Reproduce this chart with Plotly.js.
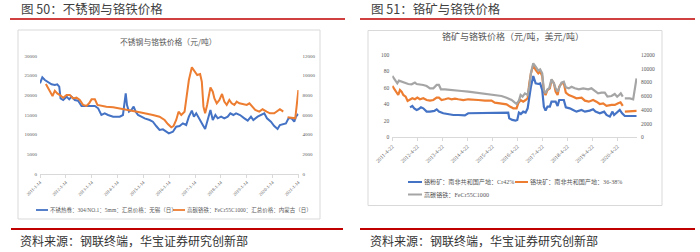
<!DOCTYPE html>
<html><head><meta charset="utf-8">
<script src="https://cdn.plot.ly/plotly-3.0.1.min.js"></script>
<style>html,body{margin:0;padding:0;background:#fff;overflow:hidden;} #chart{width:700px;height:252px;}</style>
</head><body><div id="chart"></div>
<script>
// ---------- Figure 50 data ----------
const fig50Title = '图 50：不锈钢与铬铁价格';
const fig50ChartTitle = '不锈钢与铬铁价格（元/吨）';
const stainlessName = '不锈热卷：304/NO.1：5mm：汇总价格：无锡（日）';
const ferroName50 = '高碳铬铁：FeCr55C1000：汇总价格：内蒙古（日）';
const leftTickVals = ['2011-01-14','2012-01-14','2013-01-14','2014-01-14','2015-01-14','2016-01-14','2017-01-14','2018-01-14','2019-01-14','2020-01-14','2021-01-14'];
const leftTickText = ['2011-1-14','2012-1-14','2013-1-14','2014-1-14','2015-1-14','2016-1-14','2017-1-14','2018-1-14','2019-1-14','2020-1-14','2021-1-14'];
const stainlessDates = ['2011-01-14','2011-02-16','2011-03-24','2011-05-10','2011-06-26','2011-08-12','2011-09-15','2011-10-13','2011-11-01','2011-12-08','2012-01-25','2012-03-02','2012-04-04','2012-05-20','2012-07-06','2012-08-23','2012-10-09','2012-11-25','2013-02-28','2013-04-15','2013-05-31','2013-07-17','2013-09-02','2013-11-13','2014-02-15','2014-04-01','2014-04-20','2014-05-10','2014-05-28','2014-06-25','2014-07-28','2014-08-30','2014-09-28','2014-10-31','2014-12-17','2015-02-02','2015-04-13','2015-05-29','2015-07-15','2015-08-31','2015-10-18','2015-12-03','2016-01-10','2016-03-07','2016-04-23','2016-06-10','2016-07-26','2016-09-11','2016-10-19','2016-11-30','2016-12-29','2017-01-31','2017-02-24','2017-03-27','2017-05-04','2017-06-06','2017-07-13','2017-08-20','2017-09-22','2017-10-29','2017-12-01','2018-01-18','2018-03-04','2018-04-21','2018-05-28','2018-07-10','2018-08-17','2018-10-12','2018-12-13','2019-01-29','2019-03-16','2019-04-18','2019-06-18','2019-08-04','2019-09-20','2019-10-28','2019-12-23','2020-02-08','2020-03-26','2020-04-28','2020-06-05','2020-07-22','2020-08-28','2020-10-10','2020-11-17','2020-12-11','2021-01-12'];
const stainlessPrice = [23050,24580,23900,23300,22800,22630,22800,22200,19240,18800,19660,18980,19660,18800,18640,17290,17290,17370,17290,16700,15000,15420,15000,14580,14580,15000,17120,20500,17540,15850,16270,17120,15850,15000,14580,14150,13730,13300,12200,11190,11360,10760,10340,10760,12030,12200,12880,12460,14580,16100,14580,15420,14580,13730,12460,11440,13730,16270,13730,15000,14150,14580,14150,14580,15420,15000,15420,15000,14150,13560,14580,13730,14580,15000,15420,14150,13300,12200,11440,12460,12710,12880,14150,14150,13300,14580,15250];
const ferro50Dates = ['2011-04-07','2011-05-10','2011-06-12','2011-07-10','2011-08-12','2011-09-15','2011-10-22','2011-12-08','2012-01-25','2012-03-11','2012-04-27','2012-06-13','2012-07-30','2012-09-15','2012-11-01','2012-12-09','2013-01-12','2013-02-28','2013-04-05','2013-05-31','2013-08-10','2013-11-13','2014-02-15','2014-05-18','2014-08-21','2014-11-24','2015-02-26','2015-05-29','2015-08-31','2015-11-11','2015-12-27','2016-02-13','2016-03-16','2016-04-23','2016-05-26','2016-07-03','2016-08-19','2016-09-21','2016-10-19','2016-11-30','2017-01-07','2017-02-14','2017-03-27','2017-04-20','2017-05-13','2017-06-06','2017-07-04','2017-07-27','2017-08-20','2017-09-22','2017-10-15','2017-11-17','2017-12-25','2018-01-31','2018-03-04','2018-04-07','2018-05-14','2018-06-16','2018-07-24','2018-08-26','2018-10-03','2018-11-19','2019-01-15','2019-02-22','2019-03-30','2019-05-15','2019-07-11','2019-08-27','2019-10-23','2019-12-09','2020-02-08','2020-03-26','2020-04-28','2020-05-27','2020-06-14','2020-07-10','2020-08-15','2020-10-24','2020-12-01','2020-12-20','2021-01-14'];
const ferro50Price = [9150,8700,8200,7930,8470,8200,8030,7760,8030,8030,7690,7760,7530,7020,6920,7190,7590,7590,7020,6920,6850,6780,6680,6510,6410,6270,6170,6000,5830,5490,5080,4750,4880,5490,6340,6000,6340,8200,9560,10850,10410,10070,10170,9390,6850,6170,7020,7860,8810,8370,7690,7190,7530,8140,7360,7020,7530,7190,7020,7360,7190,7120,7020,7190,6920,6510,6340,6580,6340,6170,6170,6440,6580,6440,6340,null,5760,5730,5660,6850,8540];

// ---------- Figure 51 data ----------
const fig51Title = '图 51：铬矿与铬铁价格';
const fig51ChartTitle = '铬矿与铬铁价格（元/吨，美元/吨）';
const fineOreName = '铬粉矿：南非共和国产地：Cr42%';
const lumpOreName = '铬块矿：南非共和国产地：36-38%';
const ferroName51 = '高碳铬铁：FeCr55C1000';
const rightTickVals = ['2011-04-22','2012-04-22','2013-04-22','2014-04-22','2015-04-22','2016-04-22','2017-04-22','2018-04-22','2019-04-22','2020-04-22'];
const rightTickText = ['2011-4-22','2012-4-22','2013-4-22','2014-4-22','2015-4-22','2016-4-22','2017-4-22','2018-4-22','2019-4-22','2020-4-22'];
const ferro51Dates = ['2011-04-22','2011-05-30','2011-07-04','2011-07-28','2011-09-05','2011-10-24','2011-12-12','2012-01-30','2012-03-18','2012-04-12','2012-05-30','2012-07-18','2012-09-05','2012-10-24','2012-12-12','2013-01-30','2013-03-04','2013-04-02','2013-05-30','2013-08-12','2013-10-24','2014-01-30','2014-05-06','2014-08-12','2014-11-18','2015-02-24','2015-05-30','2015-09-05','2015-11-18','2016-01-30','2016-03-18','2016-04-12','2016-05-16','2016-06-10','2016-07-08','2016-08-12','2016-09-21','2016-10-15','2016-11-08','2016-12-12','2017-01-16','2017-02-24','2017-03-23','2017-04-22','2017-05-16','2017-06-10','2017-07-08','2017-08-02','2017-09-05','2017-10-10','2017-11-04','2017-12-03','2018-01-06','2018-01-30','2018-03-04','2018-04-02','2018-05-16','2018-06-24','2018-08-12','2018-10-10','2018-12-12','2019-02-24','2019-04-12','2019-05-30','2019-07-18','2019-09-05','2019-10-24','2019-12-02','2020-01-30','2020-03-18','2020-04-22','2020-05-21','2020-06-14','2020-07-13','2020-07-25','2020-08-12','2020-10-24','2020-12-12','2021-01-06','2021-01-30'];
const ferro51Price = [8940,8450,7870,8260,8110,7870,7770,7720,7970,7770,7720,7630,7480,7140,7140,7630,7630,7000,7000,6900,6900,6750,6660,6510,6410,6270,6170,6020,5780,5440,5050,4860,5340,6170,5930,6410,6170,7380,9330,10790,10300,9720,9910,9330,6900,6410,7000,7140,8450,7870,7140,6660,7480,7970,8110,7290,7140,7380,7140,7000,7140,7000,7140,6800,6410,6510,6510,5930,6020,6320,5930,6170,6410,5930,null,5680,5680,5540,6900,8600];
const lumpDates = ['2011-04-22','2011-05-21','2011-06-24','2011-07-18','2011-08-12','2011-09-05','2011-09-30','2011-11-03','2011-12-02','2012-01-06','2012-02-09','2012-03-18','2012-04-22','2012-05-30','2012-07-18','2012-09-05','2012-10-24','2012-12-12','2013-01-30','2013-03-04','2013-04-12','2013-05-30','2013-07-18','2013-09-05','2013-10-24','2013-12-12','2014-02-24','2014-05-06','2014-07-18','2014-09-30','2015-01-06','2015-04-12','2015-05-30','2015-09-05','2015-11-18','2016-01-06','2016-02-24','2016-04-12','2016-05-06','2016-06-10','2016-07-18','2016-08-22','2016-09-21','2016-10-15','2016-11-08','2016-12-12','2017-01-16','2017-02-24','2017-03-23','2017-04-22','2017-05-16','2017-06-10','2017-07-08','2017-08-12','2017-09-05','2017-10-10','2017-11-04','2017-12-03','2017-12-27','2018-01-30','2018-03-04','2018-04-02','2018-05-16','2018-07-18','2018-09-05','2018-11-18','2019-01-06','2019-03-04','2019-05-06','2019-06-24','2019-08-12','2019-09-30','2019-11-18','2020-01-30','2020-03-18','2020-05-06','2020-06-10','2020-07-13','2020-07-25','2020-08-12','2020-10-24','2020-12-17','2021-01-30'];
const lumpPrice = [62.4,58.3,54.3,51.4,57.5,55.5,51.4,49.4,44.1,45.3,47.4,46.2,48.2,46.2,47.4,45.3,44.5,45.3,48.2,48.2,45.3,46.2,47.4,46.2,47.0,46.2,45.3,46.2,45.3,45.3,44.5,44.5,42.1,41.3,40.1,37.3,35.2,35.2,41.3,45.3,43.3,45.3,47.4,65.6,77.7,87.9,81.8,77.7,79.8,74.5,55.5,51.4,57.5,59.5,69.6,65.6,55.5,51.4,61.5,65.6,65.6,54.3,51.4,49.4,47.4,48.2,44.5,43.3,45.3,43.3,40.5,41.3,38.1,39.3,39.3,41.3,42.5,38.1,null,31.2,31.2,31.2,32.0];
const fineDates = ['2012-01-06','2012-02-09','2012-03-08','2012-04-12','2012-05-06','2012-06-14','2012-07-18','2012-09-05','2012-10-24','2012-12-27','2013-01-30','2013-03-04','2013-05-06','2013-07-18','2013-09-30','2013-12-12','2014-03-18','2014-05-06','2014-07-18','2014-09-30','2015-01-06','2015-05-30','2015-10-24','2015-12-12','2015-12-27','2016-02-09','2016-03-28','2016-04-22','2016-05-16','2016-06-14','2016-07-18','2016-08-22','2016-09-21','2016-10-15','2016-11-08','2016-12-12','2017-01-16','2017-02-24','2017-03-23','2017-04-22','2017-05-16','2017-06-10','2017-07-08','2017-08-12','2017-09-05','2017-11-04','2017-12-03','2017-12-27','2018-03-04','2018-04-02','2018-05-30','2018-07-18','2018-09-05','2018-11-18','2019-01-06','2019-03-18','2019-05-06','2019-06-10','2019-08-12','2019-10-14','2019-11-18','2020-01-06','2020-02-14','2020-03-08','2020-04-12','2020-05-30','2020-07-03','2020-08-12','2020-11-18','2021-01-30'];
const finePrice = [36.4,38.1,35.2,33.2,34.0,36.4,35.2,31.2,31.2,32.0,34.0,31.2,29.2,27.9,27.1,27.1,26.7,29.2,29.2,30.0,30.0,30.0,30.0,30.0,23.1,21.1,20.2,21.1,30.0,28.3,31.2,30.0,35.2,49.4,61.5,74.5,65.6,64.8,65.6,57.5,37.3,32.4,37.3,37.3,43.3,43.3,38.1,45.3,45.3,36.4,35.2,33.2,31.2,33.2,31.2,32.4,34.0,31.2,29.2,31.2,27.1,25.1,31.2,27.1,30.0,33.2,29.2,25.9,25.9,25.9];

const sourceText = '资料来源：钢联终端，华宝证券研究创新部';
const BLUE = '#4472C4', ORANGE = '#ED7D31', GRAY = '#A5A5A5', RED = '#C00000';

// ---------- layout helpers ----------
const W = 700, H = 252;
const X = p => p / W;
const Y = p => 1 - p / H;
const CJK = 'Noto Sans CJK SC, sans-serif';
const SERIF = 'Liberation Serif, Noto Sans CJK SC, serif';

const traces = [
  {x: stainlessDates, y: stainlessPrice, name: stainlessName, type: 'scatter', mode: 'lines', xaxis: 'x', yaxis: 'y', line: {color: BLUE, width: 2}, connectgaps: false},
  {x: ferro50Dates, y: ferro50Price, name: ferroName50, type: 'scatter', mode: 'lines', xaxis: 'x', yaxis: 'y2', line: {color: ORANGE, width: 2}, connectgaps: false},
  {x: ferro51Dates, y: ferro51Price, name: ferroName51, type: 'scatter', mode: 'lines', xaxis: 'x2', yaxis: 'y4', line: {color: GRAY, width: 2.2}, connectgaps: false},
  {x: lumpDates, y: lumpPrice, name: lumpOreName, type: 'scatter', mode: 'lines', xaxis: 'x2', yaxis: 'y3', line: {color: ORANGE, width: 2.2}, connectgaps: false},
  {x: fineDates, y: finePrice, name: fineOreName, type: 'scatter', mode: 'lines', xaxis: 'x2', yaxis: 'y3', line: {color: BLUE, width: 2.2}, connectgaps: false}
];

const axisCommonX = {type: 'date', showgrid: false, zeroline: false, showline: true, linecolor: '#D9D9D9', linewidth: 1,
  ticks: 'outside', ticklen: 3, tickcolor: '#D9D9D9', tickangle: -45, tickmode: 'array'};
const axisCommonY = {showgrid: false, zeroline: false, showline: false, ticks: '', tickformat: 'd', tickmode: 'array'};

const layout = {
  width: W, height: H, margin: {l: 0, r: 0, t: 0, b: 0},
  paper_bgcolor: '#FFFFFF', plot_bgcolor: 'rgba(0,0,0,0)', showlegend: false,
  xaxis: Object.assign({}, axisCommonX, {domain: [X(40), X(298.5)], range: ['2011-01-14', '2021-01-16'], anchor: 'y',
    tickvals: leftTickVals, ticktext: leftTickText, tickfont: {family: SERIF, size: 4.6, color: '#595959'}}),
  yaxis: Object.assign({}, axisCommonY, {domain: [1 - 174 / H, 1 - 56 / H], range: [0, 30000], anchor: 'x',
    tickvals: [0, 5000, 10000, 15000, 20000, 25000, 30000], tickfont: {family: SERIF, size: 5, color: '#595959'}, ticklabelstandoff: 2}),
  yaxis2: Object.assign({}, axisCommonY, {overlaying: 'y', side: 'right', range: [0, 12000], anchor: 'x',
    tickvals: [0, 2000, 4000, 6000, 8000, 10000, 12000], tickfont: {family: SERIF, size: 5, color: '#595959'}, ticklabelstandoff: 3}),
  xaxis2: Object.assign({}, axisCommonX, {domain: [X(392.3), X(637)], range: ['2011-04-22', '2021-02-06'], anchor: 'y3',
    tickvals: rightTickVals, ticktext: rightTickText, tickfont: {family: SERIF, size: 5.5, color: '#595959'}}),
  yaxis3: Object.assign({}, axisCommonY, {domain: [1 - 137.3 / H, 1 - 55 / H], range: [0, 100], anchor: 'x2',
    tickvals: [0, 20, 40, 60, 80, 100], tickfont: {family: SERIF, size: 5.5, color: '#595959'}, ticklabelstandoff: 2}),
  yaxis4: Object.assign({}, axisCommonY, {overlaying: 'y3', side: 'right', range: [0, 12000], anchor: 'x2',
    tickvals: [0, 2000, 4000, 6000, 8000, 10000, 12000], tickfont: {family: SERIF, size: 5.5, color: '#595959'}, ticklabelstandoff: 3}),
  shapes: [
    // chart frames
    {type: 'rect', xref: 'paper', yref: 'paper', x0: X(18), x1: X(320), y0: Y(219), y1: Y(30), line: {color: '#D9D9D9', width: 1}},
    {type: 'rect', xref: 'paper', yref: 'paper', x0: X(368), x1: X(662), y0: Y(205.5), y1: Y(30.5), line: {color: '#D9D9D9', width: 1}},
    // red rules
    {type: 'line', xref: 'paper', yref: 'paper', x0: X(10), x1: X(345), y0: Y(19), y1: Y(19), line: {color: RED, width: 1.6}},
    {type: 'line', xref: 'paper', yref: 'paper', x0: X(360), x1: X(695), y0: Y(19), y1: Y(19), line: {color: RED, width: 1.6}},
    {type: 'line', xref: 'paper', yref: 'paper', x0: X(11), x1: X(343), y0: Y(229), y1: Y(229), line: {color: RED, width: 1.8}},
    {type: 'line', xref: 'paper', yref: 'paper', x0: X(360), x1: X(695), y0: Y(229), y1: Y(229), line: {color: RED, width: 1.8}},
    // legend keys
    {type: 'line', xref: 'paper', yref: 'paper', x0: X(36), x1: X(48), y0: Y(210), y1: Y(210), line: {color: BLUE, width: 1.8}},
    {type: 'line', xref: 'paper', yref: 'paper', x0: X(173), x1: X(185), y0: Y(210), y1: Y(210), line: {color: ORANGE, width: 1.8}},
    {type: 'line', xref: 'paper', yref: 'paper', x0: X(408), x1: X(422), y0: Y(182), y1: Y(182), line: {color: BLUE, width: 2}},
    {type: 'line', xref: 'paper', yref: 'paper', x0: X(515), x1: X(528), y0: Y(182), y1: Y(182), line: {color: ORANGE, width: 2}},
    {type: 'line', xref: 'paper', yref: 'paper', x0: X(408), x1: X(422), y0: Y(194.5), y1: Y(194.5), line: {color: GRAY, width: 2}}
  ],
  annotations: [
    {text: fig50Title, x: X(20), y: Y(9), xanchor: 'left', yanchor: 'middle', font: {family: CJK, size: 12.5, color: '#404040'}},
    {text: fig51Title, x: X(370), y: Y(9), xanchor: 'left', yanchor: 'middle', font: {family: CJK, size: 12.5, color: '#404040'}},
    {text: fig50ChartTitle, x: X(168), y: Y(41.5), xanchor: 'center', yanchor: 'middle', font: {family: CJK, size: 7.8, color: '#595959'}},
    {text: fig51ChartTitle, x: X(513), y: Y(36.5), xanchor: 'center', yanchor: 'middle', font: {family: CJK, size: 9, color: '#595959'}},
    {text: stainlessName, x: X(49), y: Y(210), xanchor: 'left', yanchor: 'middle', font: {family: SERIF, size: 5.5, color: '#595959'}},
    {text: ferroName50, x: X(186), y: Y(210), xanchor: 'left', yanchor: 'middle', font: {family: SERIF, size: 5.5, color: '#595959'}},
    {text: fineOreName, x: X(423), y: Y(182), xanchor: 'left', yanchor: 'middle', font: {family: SERIF, size: 6.1, color: '#595959'}},
    {text: lumpOreName, x: X(529), y: Y(182), xanchor: 'left', yanchor: 'middle', font: {family: SERIF, size: 6.1, color: '#595959'}},
    {text: ferroName51, x: X(423), y: Y(194.5), xanchor: 'left', yanchor: 'middle', font: {family: SERIF, size: 6.1, color: '#595959'}},
    {text: sourceText, x: X(19), y: Y(240.5), xanchor: 'left', yanchor: 'middle', font: {family: CJK, size: 12, color: '#333333'}},
    {text: sourceText, x: X(369), y: Y(240.5), xanchor: 'left', yanchor: 'middle', font: {family: CJK, size: 12, color: '#333333'}}
  ].map(a => Object.assign({xref: 'paper', yref: 'paper', showarrow: false, borderpad: 0}, a))
};

Plotly.newPlot('chart', traces, layout, {staticPlot: true, displayModeBar: false});
</script></body></html>
